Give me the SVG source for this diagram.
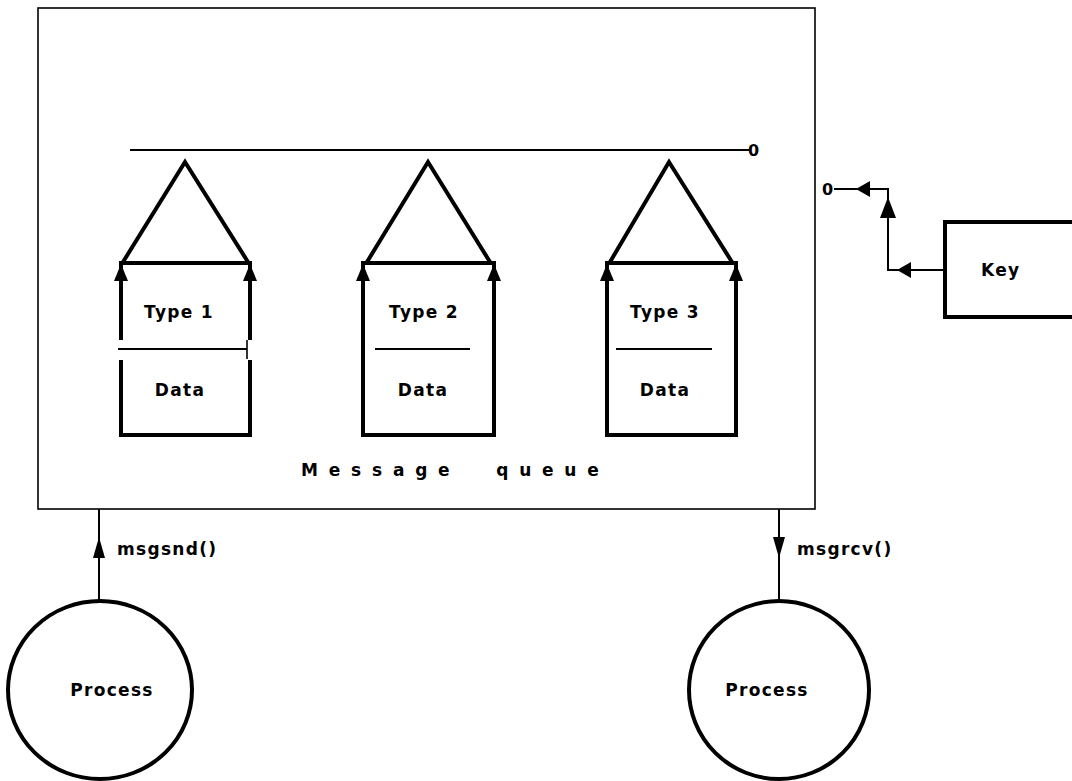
<svg xmlns="http://www.w3.org/2000/svg" width="1072" height="781" viewBox="0 0 1072 781">
  <defs>
    <style>
      .thin { fill: none; stroke: #000; stroke-width: 1.6; }
      .wire { fill: none; stroke: #000; stroke-width: 2; }
      .heavy { fill: none; stroke: #000; stroke-width: 4; }
      .head { fill: #000; stroke: none; }
      .lbl { font-family: "DejaVu Sans", "Liberation Sans", sans-serif; font-weight: bold; font-size: 17px; letter-spacing: 1.3px; fill: #000; }
      .mid { text-anchor: middle; dominant-baseline: central; }
      .zero { font-family: "DejaVu Sans", "Liberation Sans", sans-serif; font-weight: bold; font-size: 16px; fill: #000; dominant-baseline: central; }
    </style>
  </defs>
  <rect width="1072" height="781" fill="#fff"/>

  <!-- Message queue container -->
  <g id="queue">
    <rect class="thin" x="38" y="8" width="777" height="501"/>
    <text class="lbl" x="301" y="470" dominant-baseline="central" style="letter-spacing:10.8px; word-spacing:19px">Message queue</text>
  </g>

  <!-- Shared list head line -->
  <g id="list-head">
    <line class="wire" x1="130" y1="150" x2="749" y2="150"/>
    <text class="zero" x="748" y="150">0</text>
  </g>

  <!-- Message 1 (split between type and data) -->
  <g id="msg1">
    <polyline class="heavy" points="123,262 185,162 248,262"/>
    <line class="heavy" x1="119" y1="263" x2="252" y2="263"/>
    <line class="heavy" x1="121" y1="263" x2="121" y2="340"/>
    <line class="heavy" x1="121" y1="360" x2="121" y2="435"/>
    <line class="heavy" x1="250" y1="263" x2="250" y2="340"/>
    <line class="heavy" x1="250" y1="360" x2="250" y2="435"/>
    <line class="heavy" x1="119" y1="435" x2="252" y2="435"/>
    <polygon class="head" points="121,264 114,281 128,281"/>
    <polygon class="head" points="250,264 243,281 257,281"/>
    <line class="wire" x1="118" y1="349" x2="247" y2="349"/>
    <line class="thin" x1="247" y1="340" x2="247" y2="359"/>
    <text class="lbl mid" x="179" y="312">Type 1</text>
    <text class="lbl mid" x="180" y="390">Data</text>
  </g>

  <!-- Message 2 -->
  <g id="msg2">
    <polyline class="heavy" points="367,262 428,162 490,262"/>
    <rect class="heavy" x="363" y="263" width="131" height="172"/>
    <polygon class="head" points="363,264 356,281 370,281"/>
    <polygon class="head" points="494,264 487,281 501,281"/>
    <line class="wire" x1="375" y1="349" x2="470" y2="349"/>
    <text class="lbl mid" x="424" y="312">Type 2</text>
    <text class="lbl mid" x="423" y="390">Data</text>
  </g>

  <!-- Message 3 -->
  <g id="msg3">
    <polyline class="heavy" points="610,262 669,162 732,262"/>
    <rect class="heavy" x="607" y="263" width="129" height="172"/>
    <polygon class="head" points="607,264 600,281 614,281"/>
    <polygon class="head" points="736,264 729,281 743,281"/>
    <line class="wire" x1="616" y1="349" x2="712" y2="349"/>
    <text class="lbl mid" x="665" y="312">Type 3</text>
    <text class="lbl mid" x="665" y="390">Data</text>
  </g>

  <!-- Key -->
  <g id="key">
    <rect class="heavy" x="945" y="222" width="140" height="95"/>
    <text class="lbl" x="981" y="270" dominant-baseline="central">Key</text>
  </g>

  <!-- Sending process -->
  <g id="sender">
    <ellipse class="heavy" cx="100" cy="690" rx="92" ry="89"/>
    <text class="lbl mid" x="112" y="690">Process</text>
  </g>

  <!-- Receiving process -->
  <g id="receiver">
    <ellipse class="heavy" cx="779" cy="690" rx="90" ry="89"/>
    <text class="lbl mid" x="767" y="690">Process</text>
  </g>

  <!-- Connectors -->
  <g id="connectors">
    <polyline class="wire" points="945,270 888,270 888,189 834,189"/>
    <polygon class="head" points="897,270 911,262 911,278"/>
    <polygon class="head" points="888,197 880,218 896,218"/>
    <polygon class="head" points="856,189 870,181 870,197"/>
    <text class="zero" x="822" y="189">0</text>

    <line class="wire" x1="99" y1="509" x2="99" y2="601"/>
    <polygon class="head" points="99,537 93,558 105,558"/>
    <text class="lbl" x="117" y="549" dominant-baseline="central">msgsnd()</text>

    <line class="wire" x1="779" y1="509" x2="779" y2="601"/>
    <polygon class="head" points="779,558 773,537 785,537"/>
    <text class="lbl" x="797" y="549" dominant-baseline="central">msgrcv()</text>
  </g>
</svg>
